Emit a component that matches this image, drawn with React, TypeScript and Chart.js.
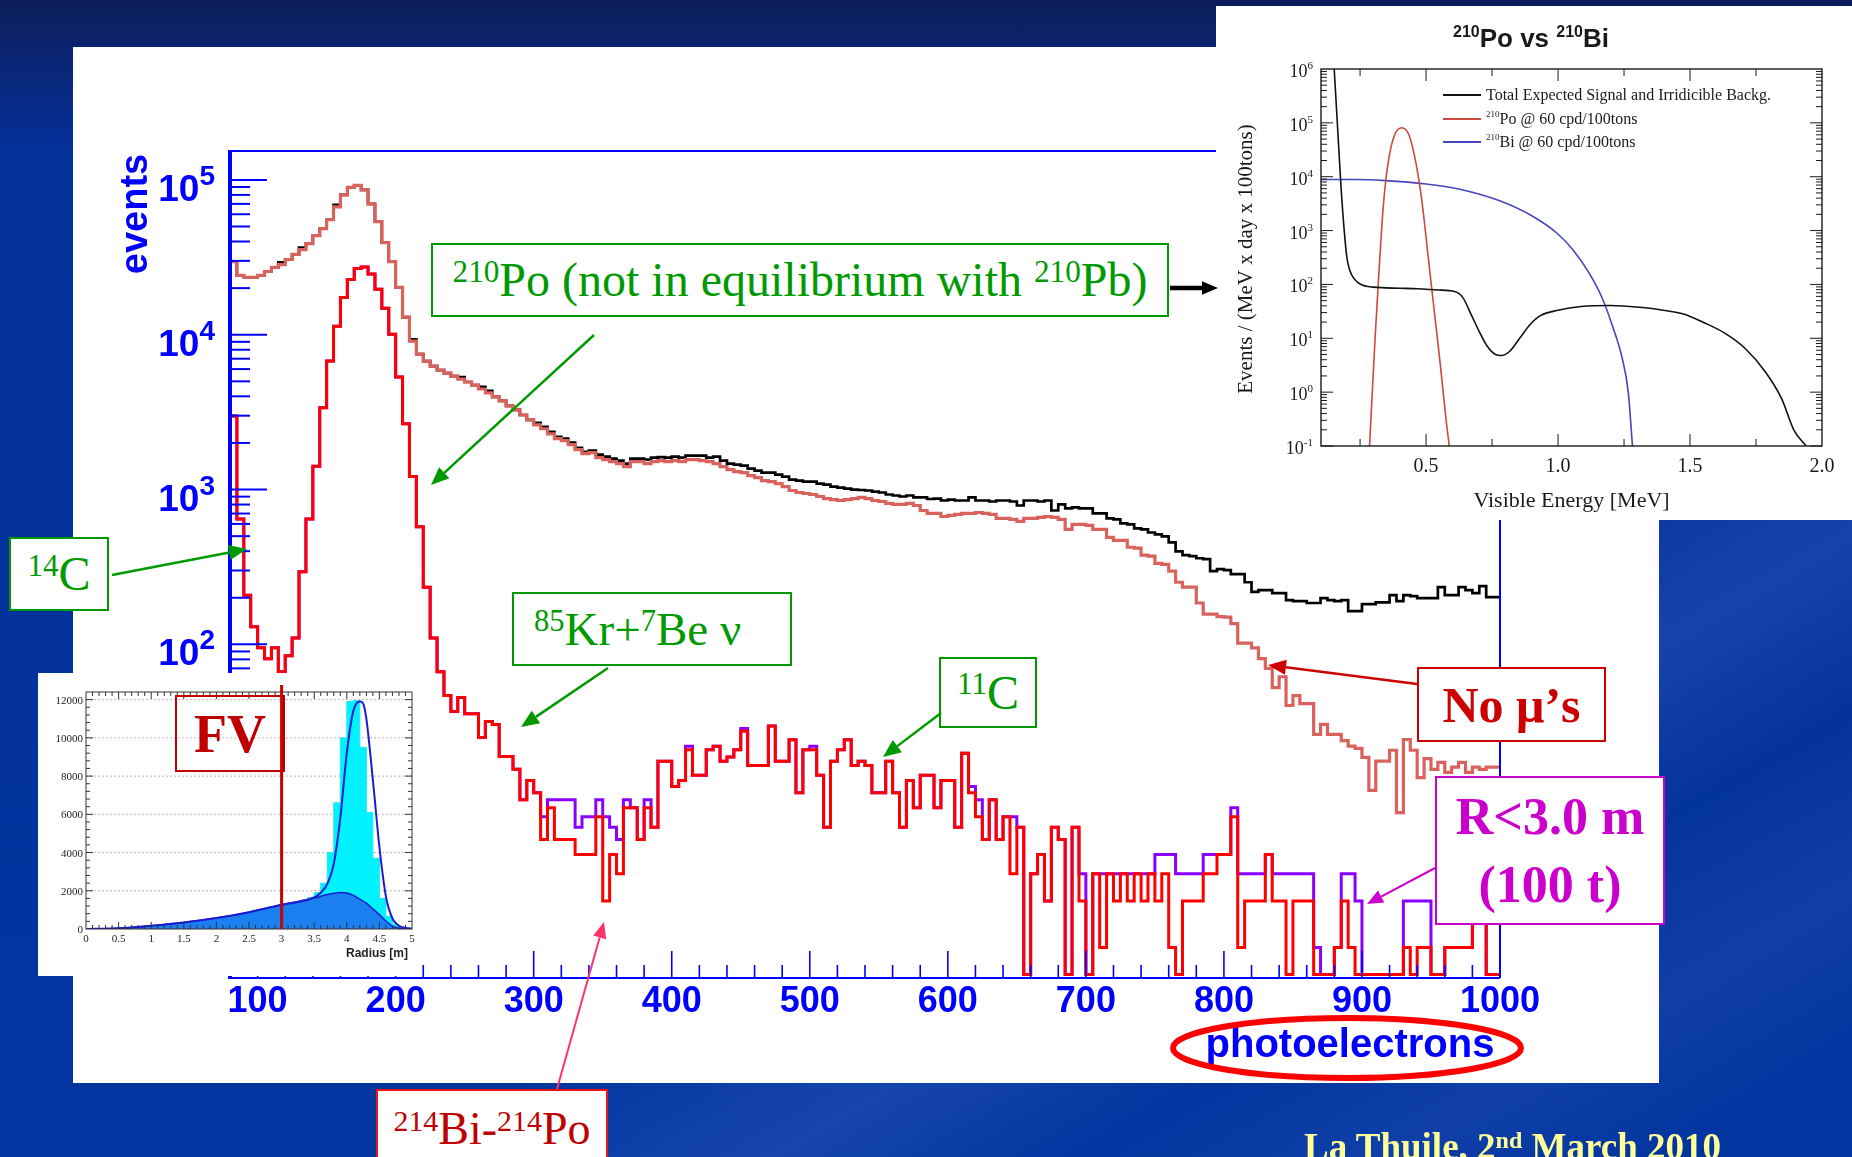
import React, { useEffect, useRef } from "react";
import { Chart, registerables } from "chart.js";

Chart.register(...registerables);

const PAGE_W = 1852;
const PAGE_H = 1157;
const SERIF = '"Liberation Serif", "Times New Roman", serif';
const SANS = '"Liberation Sans", Arial, sans-serif';

// ---------------- main histogram (5 p.e. bins from 80 to 1000 p.e.) ----------------
const binStartPe = 80;
const binWidthPe = 5;

const totalEvents = [
  50600, 29700, 24200, 23500, 23500, 24200, 25600, 27200, 29300, 30600, 33000, 36600, 38800, 43600, 48400, 55300,
  69000, 80100, 89500, 92200, 86200, 70100, 53700, 39300, 29700, 20200, 13000, 9350, 7490, 6760, 6270, 5910,
  5650, 5410, 5330, 4950, 4730, 4600, 4340, 3970, 3740, 3470, 3270, 3030, 2820, 2700,
  2540, 2360, 2190, 2130, 2010, 1862, 1755, 1782, 1680, 1630, 1582, 1536, 1470, 1582, 1582, 1560,
  1607, 1620, 1607, 1630, 1607, 1655, 1655, 1655, 1607, 1630, 1536, 1470, 1449, 1427, 1365, 1325,
  1286, 1286, 1248, 1213, 1159, 1142, 1125, 1125, 1093, 1076, 1045, 1030, 1014, 1000,
  993, 986, 971, 957, 929, 915, 902, 915, 889, 889, 869, 875, 850, 862, 850, 850,
  889, 850, 850, 837, 850, 850, 837, 789, 850, 850, 837, 850, 732, 801, 755, 766,
  755, 755, 701, 701, 651, 641, 604, 596, 561, 553, 528, 514, 499, 456, 399,
  377, 371, 360, 355, 297, 306, 302, 284, 284, 252, 218, 224, 224, 214, 214, 193,
  190, 190, 185, 185, 199, 193, 190, 193, 164, 164, 182, 182, 187, 187, 208, 190,
  208, 205, 199, 199, 199, 234, 208, 208, 234, 224, 214, 238, 202,
];

const noMuonEvents = [
  50600, 29700, 24200, 23500, 23500, 24200, 25600, 27200, 28400, 30600, 33000, 35500, 38800, 43600, 48400, 55300,
  67000, 80100, 89500, 92200, 86200, 70100, 53700, 39300, 29700, 20200, 13000, 9080, 7490, 6760, 6270, 5910,
  5650, 5410, 5170, 4950, 4730, 4460, 4210, 3970, 3740, 3470, 3270, 3030, 2820, 2620,
  2470, 2290, 2130, 2070, 1950, 1810, 1705, 1730, 1607, 1560, 1514, 1470, 1406, 1514, 1514, 1470,
  1514, 1536, 1514, 1536, 1514, 1560, 1560, 1536, 1514, 1470, 1406, 1345, 1306, 1286, 1230, 1195,
  1142, 1125, 1093, 1045, 986, 957, 943, 929, 902, 875, 862, 850, 862, 875,
  889, 875, 850, 837, 813, 801, 801, 813, 789, 732, 701, 701, 670, 681, 691, 701,
  701, 711, 701, 691, 651, 651, 641, 622, 651, 651, 661, 670, 661, 641, 553, 596,
  596, 587, 553, 553, 491, 470, 470, 424, 418, 377, 371, 334, 329, 297, 252,
  234, 234, 185, 157, 157, 151, 150, 136, 102, 102, 95, 81, 70, 52.5, 61.8, 40.3,
  46.7, 41.4, 41.4, 26.2, 30.4, 26.2, 26.2, 23.9, 22, 21.3, 18.6, 11.4, 17.6, 17.6, 20.7, 8.2,
  24.3, 20.7, 13.8, 18.3, 15.6, 17.3, 14.9, 16.1, 17.3, 14.9, 16.1, 15.6, 16.1,
];

// R < 3.0 m (purple)
const fiducialEvents = [
  11700, 2990, 645, 208, 130, 95, 80.7, 95, 66.5, 84.3, 110, 295, 645, 1414, 3370, 6760,
  11340, 17420, 22750, 26780, 27360, 24710, 19630, 14800, 10070, 5330, 2660, 1213, 574, 234, 110, 66.5,
  46.7, 36.8, 45.3, 35.7, 35.7, 25, 31.7, 30.4, 18.9, 18.9, 15.6, 9.9, 13.2, 11,
  7.7, 9.9, 9.9, 9.9, 9.9, 6.6, 7.7, 7.7, 9.9, 7.7, 6.6, 5.5, 9.9, 8.8, 5.5, 9.9,
  6.6, 17.6, 17.6, 12.1, 13.2, 22, 14.3, 14.3, 20.9, 22, 17.6, 18.7, 20.9, 28.6, 16.5, 16.5,
  16.5, 29.7, 17.6, 17.6, 24.2, 11, 20.9, 22, 14.3, 6.6, 17.6, 20.9, 24.2, 16.5,
  17.6, 16.5, 11, 11, 17.6, 11, 6.6, 13.2, 8.8, 14.3, 14.3, 8.8, 13.2, 13.2, 6.6, 19.8,
  12.1, 9.9, 5.5, 9.9, 5.5, 7.7, 7.7, 6.6, 0, 3.3, 4.4, 2.2, 6.6, 5.5, 0, 6.6,
  3.3, 0, 3.3, 3.3, 3.3, 3.3, 3.3, 3.3, 3.3, 3.3, 3.3, 4.4, 4.4, 4.4, 3.3,
  3.3, 3.3, 3.3, 4.4, 4.4, 4.4, 4.4, 8.8, 3.3, 3.3, 3.3, 3.3, 4.4, 3.3, 3.3, 3.3,
  3.3, 3.3, 3.3, 1.1, 0, 0, 1.1, 3.3, 3.3, 2.2, 0, 0, 0, 0, 0, 0,
  2.2, 2.2, 2.2, 2.2, 0, 0, 1.1, 1.1, 1.1, 1.1, 2.2, 5.5, 0,
];

// R < 3.0 m with the additional cut (red)
const fiducialCutEvents = [
  11700, 2990, 645, 208, 130, 95, 80.7, 95, 66.5, 84.3, 110, 295, 645, 1414, 3370, 6760,
  11340, 17420, 22750, 26780, 27360, 24710, 19630, 14800, 10070, 5330, 2660, 1213, 574, 234, 110, 66.5,
  46.7, 36.8, 45.3, 35.7, 35.7, 25, 31.7, 30.4, 18.9, 18.9, 15.6, 9.9, 13.2, 11,
  5.5, 8.8, 5.5, 5.5, 5.5, 4.4, 4.4, 4.4, 7.7, 2.2, 4.4, 3.3, 8.8, 8.8, 5.5, 8.8,
  6.6, 17.6, 17.6, 12.1, 13.2, 20.9, 14.3, 14.3, 20.9, 22, 17.6, 18.7, 20.9, 27.5, 16.5, 16.5,
  16.5, 29.7, 17.6, 17.6, 24.2, 11, 20.9, 20.9, 14.3, 6.6, 17.6, 20.9, 24.2, 16.5,
  17.6, 16.5, 11, 11, 17.6, 11, 6.6, 13.2, 8.8, 14.3, 14.3, 8.8, 13.2, 13.2, 6.6, 19.8,
  11, 7.7, 5.5, 9.9, 5.5, 7.7, 3.3, 6.6, 0, 3.3, 4.4, 2.2, 6.6, 5.5, 0, 6.6,
  2.2, 0, 3.3, 1.1, 3.3, 2.2, 3.3, 2.2, 3.3, 2.2, 3.3, 2.2, 3.3, 1.1, 0,
  2.2, 2.2, 2.2, 3.3, 3.3, 4.4, 4.4, 7.7, 1.1, 2.2, 2.2, 2.2, 4.4, 2.2, 2.2, 0,
  2.2, 2.2, 2.2, 0, 0, 0, 1.1, 2.2, 1.1, 0, 0, 0, 0, 0, 0, 0,
  1.1, 0, 1.1, 1.1, 0, 0, 1.1, 1.1, 1.1, 1.1, 2.2, 5.5, 0,
];

const peTickLabels = ["100", "200", "300", "400", "500", "600", "700", "800", "900", "1000"];
const eventDecades = [1, 2, 3, 4, 5];
const Y_MIN = 0.738;
const Y_MAX = 153700;

// ---------------- 210Po vs 210Bi inset ----------------
const backgroundEnergy = [0.152, 0.165, 0.178, 0.19, 0.2, 0.21, 0.225, 0.25, 0.3, 0.4, 0.469, 0.546, 0.608, 0.639, 0.67, 0.701, 0.732, 0.763, 0.786, 0.817, 0.856, 0.895, 0.933, 1.0, 1.088, 1.197, 1.32, 1.398, 1.475, 1.553, 1.63, 1.707, 1.785, 1.847, 1.893, 1.94];
const backgroundRate = [1000000, 79400, 6310, 1000, 316, 190, 132, 102, 89, 85, 83, 79, 74, 57.5, 28.2, 13.5, 7.1, 5.0, 4.8, 5.75, 10.2, 18.2, 26.3, 33.1, 38.9, 40.7, 37.2, 33.1, 28.2, 19.5, 12.6, 6.6, 2.4, 0.76, 0.2, 0.1];
const poEnergy = [0.286, 0.307, 0.322, 0.337, 0.353, 0.376, 0.407, 0.435, 0.461, 0.485, 0.508, 0.531, 0.554, 0.577, 0.588];
const poRate = [0.1, 10.2, 182, 2450, 14100, 51300, 81300, 60300, 18600, 3310, 331, 32.4, 3.24, 0.275, 0.1];
const biEnergy = [0.1, 0.237, 0.345, 0.5, 0.624, 0.779, 0.902, 0.995, 1.057, 1.119, 1.166, 1.204, 1.243, 1.266, 1.282];
const biRate = [8850, 8850, 8470, 7330, 5900, 3560, 1860, 902, 438, 159, 57.8, 18.2, 4.3, 1.0, 0.1];
const energyTickLabels = ["0.5", "1.0", "1.5", "2.0"];
const rateDecades = [-1, 0, 1, 2, 3, 4, 5, 6];
const legendLabels = [
  [{ t: "Total Expected Signal and Irridicible Backg." }],
  [{ t: "210", sup: true }, { t: "Po @ 60 cpd/100tons" }],
  [{ t: "210", sup: true }, { t: "Bi @ 60 cpd/100tons" }],
];

// ---------------- radius inset ----------------
const radiusBinWidth = 0.1;
const radiusAllEvents = [
  10, 15, 20, 25, 35, 45, 55, 70, 90, 110, 130, 155, 180, 210, 245, 280, 320, 360, 410, 460,
  520, 570, 630, 690, 750, 810, 880, 950, 1020, 1100, 1170, 1250, 1330, 1420, 1520, 1650, 1900, 2400, 4000, 6600,
  10000, 11900, 11950, 9500, 6100, 3700, 1600, 660, 230, 60,
];
const innerRadius = [0, 0.5, 1.0, 1.5, 2.0, 2.5, 3.0, 3.5, 3.7, 3.9, 4.0, 4.1, 4.2, 4.3, 4.4, 4.5, 4.6, 4.7, 4.8, 4.9, 5.0];
const innerComponent = [0, 40, 170, 340, 570, 880, 1270, 1620, 1800, 1910, 1880, 1760, 1560, 1350, 1050, 750, 420, 150, 40, 5, 0];
const fitRadius = [0, 0.5, 1, 1.5, 2, 2.5, 3, 3.5, 3.6, 3.7, 3.8, 3.9, 4.0, 4.1, 4.2, 4.25, 4.3, 4.4, 4.5, 4.6, 4.7, 4.8, 4.9, 5.0];
const fitTotal = [0, 40, 170, 340, 570, 880, 1270, 1650, 1900, 2350, 3400, 5800, 9200, 11400, 11900, 11800, 11000, 7800, 4300, 1700, 550, 170, 50, 15];
const radiusTickLabels = ["0", "0.5", "1", "1.5", "2", "2.5", "3", "3.5", "4", "4.5", "5"];
const countTickLabels = ["0", "2000", "4000", "6000", "8000", "10000", "12000"];
const fiducialRadius = 3;

// ---------------- helpers ----------------
type Seg = { t: string; sup?: boolean };
function drawRich(ctx: any, segs: Seg[], x: number, y: number, align: string, font: string, supFont: string, rise: number) {
  const widths = segs.map((s) => {
    ctx.font = s.sup ? supFont : font;
    return ctx.measureText(s.t).width;
  });
  const total = widths.reduce((a, b) => a + b, 0);
  let cx = align === "center" ? x - total / 2 : align === "right" ? x - total : x;
  ctx.textAlign = "left";
  ctx.textBaseline = "alphabetic";
  segs.forEach((s, i) => {
    ctx.font = s.sup ? supFont : font;
    ctx.fillText(s.t, cx, s.sup ? y - rise : y);
    cx += widths[i];
  });
}

function histogramPoints(values: number[], start: number, width: number, floor: number) {
  const pts = values.map((v, i) => ({ x: start + i * width, y: v > 0 ? v : floor }));
  pts.push({ x: start + values.length * width, y: pts[pts.length - 1].y });
  return pts;
}

function zipPoints(xs: number[], ys: number[]) {
  return xs.map((x, i) => ({ x, y: ys[i] }));
}

// ---------------- plugins ----------------
const mainAxesPlugin = {
  id: "mainAxes",
  afterDatasetsDraw(chart: any) {
    const { ctx, chartArea: a } = chart;
    const xs = chart.scales.x;
    const ys = chart.scales.y;
    const blue = "#0000ff";
    ctx.save();
    ctx.strokeStyle = blue;
    ctx.fillStyle = blue;
    ctx.lineWidth = 2;
    for (let e = -1; e <= 5; e++) {
      for (let m = 1; m <= 9; m++) {
        const v = m * Math.pow(10, e);
        if (v < Y_MIN || v > Y_MAX) continue;
        const y = ys.getPixelForValue(v);
        ctx.beginPath();
        ctx.moveTo(a.left, y);
        ctx.lineTo(a.left + (m === 1 ? 37 : 20), y);
        ctx.stroke();
      }
    }
    ctx.lineWidth = 1.6;
    for (let pe = 100; pe < 1000; pe += 20) {
      const x = xs.getPixelForValue(pe);
      const len = pe % 100 === 0 ? 27 : 13;
      ctx.beginPath();
      ctx.moveTo(x, a.bottom);
      ctx.lineTo(x, a.bottom - len);
      ctx.stroke();
    }
    ctx.lineWidth = 2;
    ctx.beginPath();
    ctx.moveTo(a.left, a.top);
    ctx.lineTo(a.right, a.top);
    ctx.moveTo(a.right, a.top);
    ctx.lineTo(a.right, a.bottom);
    ctx.moveTo(a.left, a.bottom);
    ctx.lineTo(a.right, a.bottom);
    ctx.stroke();
    ctx.lineWidth = 4;
    ctx.beginPath();
    ctx.moveTo(a.left, a.top - 1);
    ctx.lineTo(a.left, a.bottom + 1);
    ctx.stroke();

    for (const e of eventDecades) {
      const y = ys.getPixelForValue(Math.pow(10, e));
      drawRich(ctx, [{ t: "10" }, { t: String(e), sup: true }], a.left - 15, y + 21, "right", `bold 37px ${SANS}`, `bold 28px ${SANS}`, 16);
    }
    ctx.font = `bold 36px ${SANS}`;
    ctx.textAlign = "center";
    ctx.textBaseline = "alphabetic";
    peTickLabels.forEach((lbl) => ctx.fillText(lbl, xs.getPixelForValue(Number(lbl)), a.bottom + 34));
    ctx.font = `bold 40px ${SANS}`;
    ctx.fillText("photoelectrons", a.right - 150, a.bottom + 79);
    ctx.save();
    ctx.translate(a.left - 83, a.top + 63);
    ctx.rotate(-Math.PI / 2);
    ctx.font = `bold 38px ${SANS}`;
    ctx.textAlign = "center";
    ctx.fillText("events", 0, 0);
    ctx.restore();
    ctx.restore();
  },
};

const poBiAxesPlugin = {
  id: "poBiAxes",
  afterDatasetsDraw(chart: any) {
    const { ctx, chartArea: a } = chart;
    const xs = chart.scales.x;
    const ys = chart.scales.y;
    ctx.save();
    ctx.strokeStyle = "#1a1a1a";
    ctx.fillStyle = "#1a1a1a";
    ctx.lineWidth = 1.4;
    ctx.strokeRect(a.left, a.top, a.right - a.left, a.bottom - a.top);
    ctx.lineWidth = 1;
    for (let e = -1; e <= 5; e++) {
      for (let m = 1; m <= 9; m++) {
        const v = m * Math.pow(10, e);
        if (v > 1e6) continue;
        const y = ys.getPixelForValue(v);
        const len = m === 1 ? 12 : 6;
        ctx.beginPath();
        ctx.moveTo(a.left, y);
        ctx.lineTo(a.left + len, y);
        ctx.moveTo(a.right, y);
        ctx.lineTo(a.right - len, y);
        ctx.stroke();
      }
    }
    for (let k = 1; k <= 7; k++) {
      const x = xs.getPixelForValue(0.25 * k);
      const len = k % 2 === 0 ? 12 : 7;
      ctx.beginPath();
      ctx.moveTo(x, a.bottom);
      ctx.lineTo(x, a.bottom - len);
      ctx.moveTo(x, a.top);
      ctx.lineTo(x, a.top + len);
      ctx.stroke();
    }
    for (const e of rateDecades) {
      const y = ys.getPixelForValue(Math.pow(10, e));
      drawRich(ctx, [{ t: "10" }, { t: String(e), sup: true }], a.left - 8, y + 8, "right", `18px ${SERIF}`, `11px ${SERIF}`, 8);
    }
    ctx.font = `20px ${SERIF}`;
    ctx.textAlign = "center";
    energyTickLabels.forEach((lbl) => ctx.fillText(lbl, xs.getPixelForValue(Number(lbl)), a.bottom + 26));
    ctx.font = `22px ${SERIF}`;
    ctx.fillText("Visible Energy [MeV]", (a.left + a.right) / 2, a.bottom + 61);
    drawRich(ctx, [{ t: "210", sup: true }, { t: "Po vs " }, { t: "210", sup: true }, { t: "Bi" }], 315, 41, "center", `bold 26px ${SANS}`, `bold 16px ${SANS}`, 10);
    ctx.save();
    ctx.translate(36, 253);
    ctx.rotate(-Math.PI / 2);
    ctx.font = `21px ${SERIF}`;
    ctx.textAlign = "center";
    ctx.fillText("Events / (MeV x day x 100tons)", 0, 0);
    ctx.restore();
    const colors = ["#111111", "#cc4a40", "#4646c0"];
    const rows = [89, 113, 136];
    legendLabels.forEach((segs, i) => {
      ctx.strokeStyle = colors[i];
      ctx.lineWidth = 2;
      ctx.beginPath();
      ctx.moveTo(227, rows[i]);
      ctx.lineTo(265, rows[i]);
      ctx.stroke();
      ctx.fillStyle = "#1a1a1a";
      drawRich(ctx, segs as Seg[], 270, rows[i] + 5, "left", `16px ${SERIF}`, `9px ${SERIF}`, 7);
    });
    ctx.restore();
  },
};

const radiusGridPlugin = {
  id: "radiusGrid",
  beforeDatasetsDraw(chart: any) {
    const { ctx, chartArea: a } = chart;
    const ys = chart.scales.y;
    ctx.save();
    ctx.strokeStyle = "#b8b8b8";
    ctx.lineWidth = 1;
    ctx.setLineDash([2, 2]);
    countTickLabels.forEach((lbl) => {
      const v = Number(lbl);
      if (v === 0) return;
      const y = ys.getPixelForValue(v);
      ctx.beginPath();
      ctx.moveTo(a.left, y);
      ctx.lineTo(a.right, y);
      ctx.stroke();
    });
    ctx.restore();
  },
  afterDatasetsDraw(chart: any) {
    const { ctx, chartArea: a } = chart;
    const xs = chart.scales.x;
    const ys = chart.scales.y;
    ctx.save();
    ctx.strokeStyle = "#333";
    ctx.fillStyle = "#222";
    ctx.lineWidth = 1;
    ctx.strokeRect(a.left, a.top, a.right - a.left, a.bottom - a.top);
    for (let k = 1; k < 50; k++) {
      const x = xs.getPixelForValue(k * radiusBinWidth);
      const len = k % 5 === 0 ? 7 : 4;
      ctx.beginPath();
      ctx.moveTo(x, a.bottom);
      ctx.lineTo(x, a.bottom - len);
      ctx.moveTo(x, a.top);
      ctx.lineTo(x, a.top + len);
      ctx.stroke();
    }
    for (let v = 400; v < 12400; v += 400) {
      const y = ys.getPixelForValue(v);
      const len = v % 2000 === 0 ? 7 : 4;
      ctx.beginPath();
      ctx.moveTo(a.left, y);
      ctx.lineTo(a.left + len, y);
      ctx.moveTo(a.right, y);
      ctx.lineTo(a.right - len, y);
      ctx.stroke();
    }
    ctx.font = `11px ${SERIF}`;
    ctx.textAlign = "right";
    countTickLabels.forEach((lbl) => ctx.fillText(lbl, a.left - 3, ys.getPixelForValue(Number(lbl)) + 4));
    ctx.textAlign = "center";
    radiusTickLabels.forEach((lbl) => ctx.fillText(lbl, xs.getPixelForValue(Number(lbl)), a.bottom + 13));
    ctx.font = `bold 12px ${SANS}`;
    ctx.textAlign = "right";
    ctx.fillText("Radius [m]", a.right - 4, a.bottom + 28);
    const fx = xs.getPixelForValue(fiducialRadius);
    ctx.strokeStyle = "#cc0000";
    ctx.lineWidth = 3;
    ctx.beginPath();
    ctx.moveTo(fx, 12);
    ctx.lineTo(fx, a.bottom);
    ctx.stroke();
    ctx.restore();
  },
};

// ---------------- chart components ----------------
function MainChart() {
  const ref = useRef<HTMLCanvasElement>(null);
  useEffect(() => {
    const stepOpts = { stepped: "after", pointRadius: 0, fill: false, borderJoinStyle: "miter", borderCapStyle: "butt" };
    const chart = new Chart(ref.current as HTMLCanvasElement, {
      type: "line",
      data: {
        datasets: [
          { ...stepOpts, data: histogramPoints(fiducialCutEvents, binStartPe, binWidthPe, Y_MIN), borderColor: "#ff0000", borderWidth: 3 },
          { ...stepOpts, data: histogramPoints(fiducialEvents, binStartPe, binWidthPe, Y_MIN), borderColor: "#8a00ff", borderWidth: 3 },
          { ...stepOpts, data: histogramPoints(noMuonEvents, binStartPe, binWidthPe, Y_MIN), borderColor: "#d9625c", borderWidth: 3.2 },
          { ...stepOpts, data: histogramPoints(totalEvents, binStartPe, binWidthPe, Y_MIN), borderColor: "#000000", borderWidth: 2.7 },
        ] as any,
      },
      options: {
        responsive: false,
        animation: false,
        devicePixelRatio: 1,
        layout: { padding: { left: 230, right: PAGE_W - 1500, top: 151, bottom: PAGE_H - 978 } },
        scales: {
          x: { type: "linear", min: 80, max: 1000, display: false },
          y: { type: "logarithmic", min: Y_MIN, max: Y_MAX, display: false },
        },
        plugins: { legend: { display: false }, tooltip: { enabled: false } },
      } as any,
      plugins: [mainAxesPlugin],
    });
    return () => chart.destroy();
  }, []);
  return <canvas ref={ref} width={PAGE_W} height={PAGE_H} style={{ position: "absolute", left: 0, top: 0 }} />;
}

function PoBiInset() {
  const ref = useRef<HTMLCanvasElement>(null);
  useEffect(() => {
    const lineOpts = { pointRadius: 0, fill: false, cubicInterpolationMode: "monotone", borderWidth: 1.6 };
    const chart = new Chart(ref.current as HTMLCanvasElement, {
      type: "line",
      data: {
        datasets: [
          { ...lineOpts, data: zipPoints(backgroundEnergy, backgroundRate), borderColor: "#111111" },
          { ...lineOpts, data: zipPoints(poEnergy, poRate), borderColor: "#cc4a40" },
          { ...lineOpts, data: zipPoints(biEnergy, biRate), borderColor: "#4646c0" },
        ] as any,
      },
      options: {
        responsive: false,
        animation: false,
        devicePixelRatio: 1,
        layout: { padding: { left: 105, right: 30, top: 63, bottom: 74 } },
        scales: {
          x: { type: "linear", min: 0.102, max: 2.0, display: false },
          y: { type: "logarithmic", min: 0.1, max: 1e6, display: false },
        },
        plugins: { legend: { display: false }, tooltip: { enabled: false } },
      } as any,
      plugins: [poBiAxesPlugin],
    });
    return () => chart.destroy();
  }, []);
  return (
    <div style={{ position: "absolute", left: 1216, top: 6, width: 636, height: 514, background: "#ffffff" }}>
      <canvas ref={ref} width={636} height={514} style={{ position: "absolute", left: 0, top: 0 }} />
    </div>
  );
}

function RadiusInset() {
  const ref = useRef<HTMLCanvasElement>(null);
  useEffect(() => {
    const chart = new Chart(ref.current as HTMLCanvasElement, {
      type: "line",
      data: {
        datasets: [
          { data: zipPoints(fitRadius, fitTotal), borderColor: "#1c1cd0", borderWidth: 2, pointRadius: 0, fill: false, cubicInterpolationMode: "monotone" },
          { data: zipPoints(innerRadius, innerComponent), borderColor: "#1c1cd0", backgroundColor: "#1a80f0", borderWidth: 1.5, pointRadius: 0, fill: "origin", cubicInterpolationMode: "monotone" },
          { data: histogramPoints(radiusAllEvents, 0, radiusBinWidth, 0), borderColor: "#22e8f4", backgroundColor: "#00f2ff", borderWidth: 1, pointRadius: 0, fill: "origin", stepped: "after" },
        ] as any,
      },
      options: {
        responsive: false,
        animation: false,
        devicePixelRatio: 1,
        layout: { padding: { left: 47, right: 7, top: 19, bottom: 49 } },
        scales: {
          x: { type: "linear", min: 0, max: 5, display: false },
          y: { type: "linear", min: 0, max: 12400, display: false },
        },
        plugins: { legend: { display: false }, tooltip: { enabled: false } },
      } as any,
      plugins: [radiusGridPlugin],
    });
    return () => chart.destroy();
  }, []);
  return (
    <div style={{ position: "absolute", left: 38, top: 673, width: 382, height: 303, background: "#ffffff" }}>
      <canvas ref={ref} width={380} height={305} style={{ position: "absolute", left: 1, top: 0 }} />
    </div>
  );
}

// ---------------- annotations ----------------
const Sup = ({ children }: any) => (
  <span style={{ fontSize: "0.65em", position: "relative", top: "-0.45em" }}>{children}</span>
);

function Box({ left, top, width, height, border, color, font, children, bg = "#ffffff", justify = "center", padLeft = 0, column = false }: any) {
  return (
    <div
      style={{
        position: "absolute", left, top, width, height, boxSizing: "border-box",
        border: `2px solid ${border}`, background: bg, color, font, display: "flex",
        flexDirection: column ? "column" : "row",
        alignItems: "center", justifyContent: justify, paddingLeft: padLeft,
        whiteSpace: "nowrap", lineHeight: 1,
      }}
    >
      {children}
    </div>
  );
}

function Arrow({ x1, y1, x2, y2, color, width = 2.5, head = 18 }: any) {
  const ang = Math.atan2(y2 - y1, x2 - x1);
  const hw = head * 0.42;
  const bx = x2 - head * Math.cos(ang);
  const by = y2 - head * Math.sin(ang);
  const p1 = `${bx + hw * Math.sin(ang)},${by - hw * Math.cos(ang)}`;
  const p2 = `${bx - hw * Math.sin(ang)},${by + hw * Math.cos(ang)}`;
  return (
    <g>
      <line x1={x1} y1={y1} x2={bx} y2={by} stroke={color} strokeWidth={width} />
      <polygon points={`${x2},${y2} ${p1} ${p2}`} fill={color} />
    </g>
  );
}

function Annotations() {
  const green = "#009a00";
  const serif48 = `48px ${SERIF}`;
  return (
    <>
      <Box left={431} top={243} width={738} height={74} border={green} color={green} font={serif48}>
        <span><Sup>210</Sup>Po (not in equilibrium with <Sup>210</Sup>Pb)</span>
      </Box>
      <Box left={9} top={537} width={100} height={74} border={green} color={green} font={serif48}>
        <span><Sup>14</Sup>C</span>
      </Box>
      <Box left={512} top={592} width={280} height={74} border={green} color={green} font={`47px ${SERIF}`} justify="flex-start" padLeft={20}>
        <span><Sup>85</Sup>Kr+<Sup>7</Sup>Be ν</span>
      </Box>
      <Box left={939} top={657} width={98} height={71} border={green} color={green} font={serif48}>
        <span><Sup>11</Sup>C</span>
      </Box>
      <Box left={1417} top={667} width={189} height={75} border="#cc0000" color="#cc0000" font={`bold 50px ${SERIF}`}>
        <span>No μ’s</span>
      </Box>
      <Box left={1435} top={776} width={230} height={149} border="#cc00cc" color="#cc00cc" font={`bold 52px ${SERIF}`} column justify="center">
        <div style={{ lineHeight: "68px" }}>R&lt;3.0 m</div>
        <div style={{ lineHeight: "68px" }}>(100 t)</div>
      </Box>
      <Box left={376} top={1089} width={232} height={80} border="#ee1111" color="#c00000" font={`46px ${SERIF}`}>
        <span><Sup>214</Sup>Bi-<Sup>214</Sup>Po</span>
      </Box>
      <Box left={175} top={695} width={110} height={77} border="#c00000" color="#c00000" font={`bold 54px ${SERIF}`} bg="transparent">
        <span>FV</span>
      </Box>
      <div style={{ position: "absolute", left: 1304, top: 1128, font: `bold 37px ${SERIF}`, color: "#ffff99", lineHeight: 1, whiteSpace: "nowrap" }}>
        La Thuile, 2<Sup>nd</Sup> March 2010
      </div>
      <svg width={PAGE_W} height={PAGE_H} style={{ position: "absolute", left: 0, top: 0, pointerEvents: "none" }}>
        <Arrow x1={594} y1={335} x2={431} y2={485} color={green} />
        <Arrow x1={112} y1={575} x2={247} y2={549} color={green} />
        <Arrow x1={608} y1={668} x2={521} y2={727} color={green} />
        <Arrow x1={941} y1={713} x2={883} y2={757} color={green} />
        <Arrow x1={1170} y1={288} x2={1218} y2={288} color="#000000" width={4.5} head={16} />
        <Arrow x1={1417} y1={684} x2={1268} y2={665} color="#cc0000" width={2.5} />
        <Arrow x1={1435} y1={868} x2={1367} y2={904} color="#cc00cc" width={2} head={16} />
        <Arrow x1={557} y1={1089} x2={604} y2={922} color="#ff3366" width={2} head={16} />
        <ellipse cx={1347} cy={1048} rx={174} ry={30} fill="none" stroke="#ff0000" strokeWidth={6} />
      </svg>
    </>
  );
}

export default function App() {
  return (
    <div
      style={{
        position: "fixed", left: 0, top: 0, width: PAGE_W, height: PAGE_H, overflow: "hidden",
        background: "linear-gradient(180deg, #0b1d58 0px, #0a2470 50px, #04309a 150px, #0335a0 100%)",
      }}
    >
      <div style={{ position: "absolute", left: 0, top: 0, width: PAGE_W, height: PAGE_H, background: "linear-gradient(150deg, rgba(0,0,0,0) 62%, rgba(70,110,210,0.28) 72%, rgba(0,0,0,0) 80%, rgba(60,100,200,0.22) 88%, rgba(0,0,0,0) 95%)" }} />
      <div style={{ position: "absolute", left: 73, top: 47, width: 1586, height: 1036, background: "#ffffff" }} />
      <MainChart />
      <RadiusInset />
      <PoBiInset />
      <Annotations />
    </div>
  );
}
